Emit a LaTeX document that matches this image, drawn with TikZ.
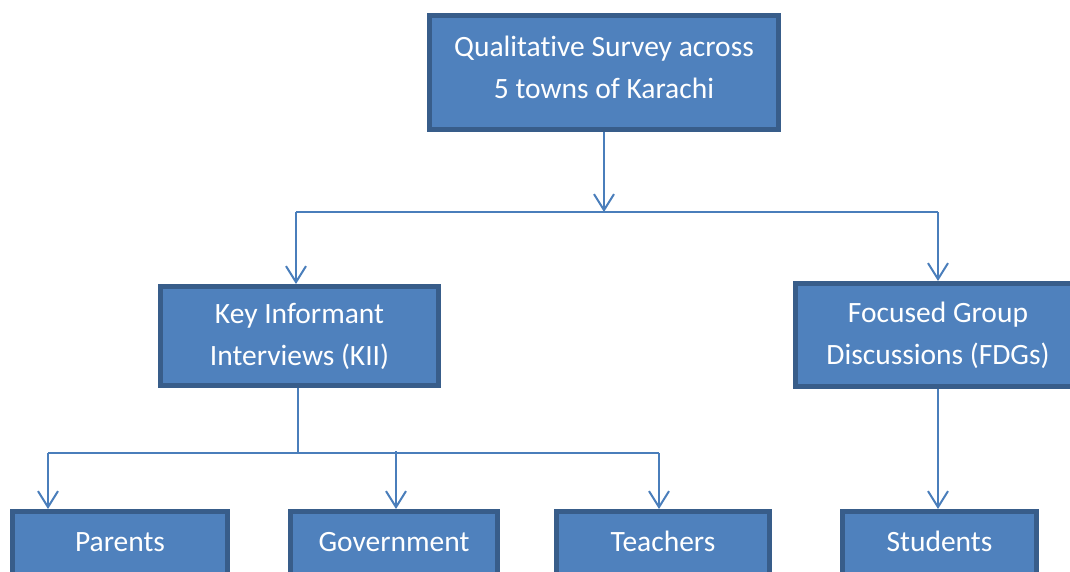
\documentclass[tikz,border=0pt]{standalone}
\usepackage{fontspec}
\setmainfont{Carlito}[Ligatures={NoCommon,NoRequired,NoContextual}]
\usetikzlibrary{arrows.meta}
\definecolor{boxfill}{HTML}{4F81BD}
\definecolor{boxline}{HTML}{385D8A}
\definecolor{wire}{HTML}{4A7EBB}
\begin{document}
\begin{tikzpicture}[x=1pt,y=-1pt,
  boxtext/.style={align=center, text=white, font=\fontsize{29.5}{42}\selectfont},
  box/.style={draw=boxline, fill=boxfill, line width=5pt, inner sep=0pt,
    outer sep=2.5pt, boxtext},
  lowbox/.style={box, minimum height=80pt, text height=20pt, text depth=20pt},
  wireline/.style={draw=wire, line width=2pt},
  wirearrow/.style={wireline, -{Straight Barb[length=16pt,width=20pt,line width=2pt]}}]
\useasboundingbox (0,0) rectangle (1070,571);
\clip (0,0) rectangle (1070,571);

% boxes
\node[box, minimum width=349pt, minimum height=114pt,
  label={[name=toptext, boxtext, yshift=5pt]center:{Qualitative Survey across\\5 towns of Karachi}}]
  (top) at (604,72.5) {};
\node[box, minimum width=278pt, minimum height=99pt] (kii) at (299.5,336)
  {Key Informant\\Interviews (KII)};
\node[box, minimum width=285pt, minimum height=103pt] (fdg) at (938,335)
  {Focused Group\\Discussions (FDGs)};
% bottom row runs past the lower edge
\node[lowbox, minimum width=215pt] (par) at (120,551.5) {Parents};
\node[lowbox, minimum width=207pt] (gov) at (394,551.5) {Government};
\node[lowbox, minimum width=213pt] (tea) at (663,551.5) {Teachers};
\node[lowbox, minimum width=194pt] (stu) at (939.5,551.5) {Students};

% junction points
\coordinate (j1) at (604,212);
\coordinate (jl) at (296,212);
\coordinate (jr) at (938,212);
\coordinate (k1) at (298,453);
\coordinate (b1) at (48,453);
\coordinate (b2) at (396,451);
\coordinate (b3) at (659,453);

% upper level
\draw[wirearrow] (top.south) -- (j1);
\draw[wireline] (jl) -- (jr);
\draw[wirearrow] (jl) -- (jl |- kii.north);
\draw[wirearrow] (jr) -- (jr |- fdg.north);

% lower level
\draw[wireline] (kii.south -| k1) -- (k1);
\draw[wireline] (b1) -- (b3);
\draw[wirearrow] (b1) -- (b1 |- par.north);
\draw[wirearrow] (b2) -- (b2 |- gov.north);
\draw[wirearrow] (b3) -- (b3 |- tea.north);
\draw[wirearrow] (fdg.south) -- (fdg.south |- stu.north);
\end{tikzpicture}
\end{document}
